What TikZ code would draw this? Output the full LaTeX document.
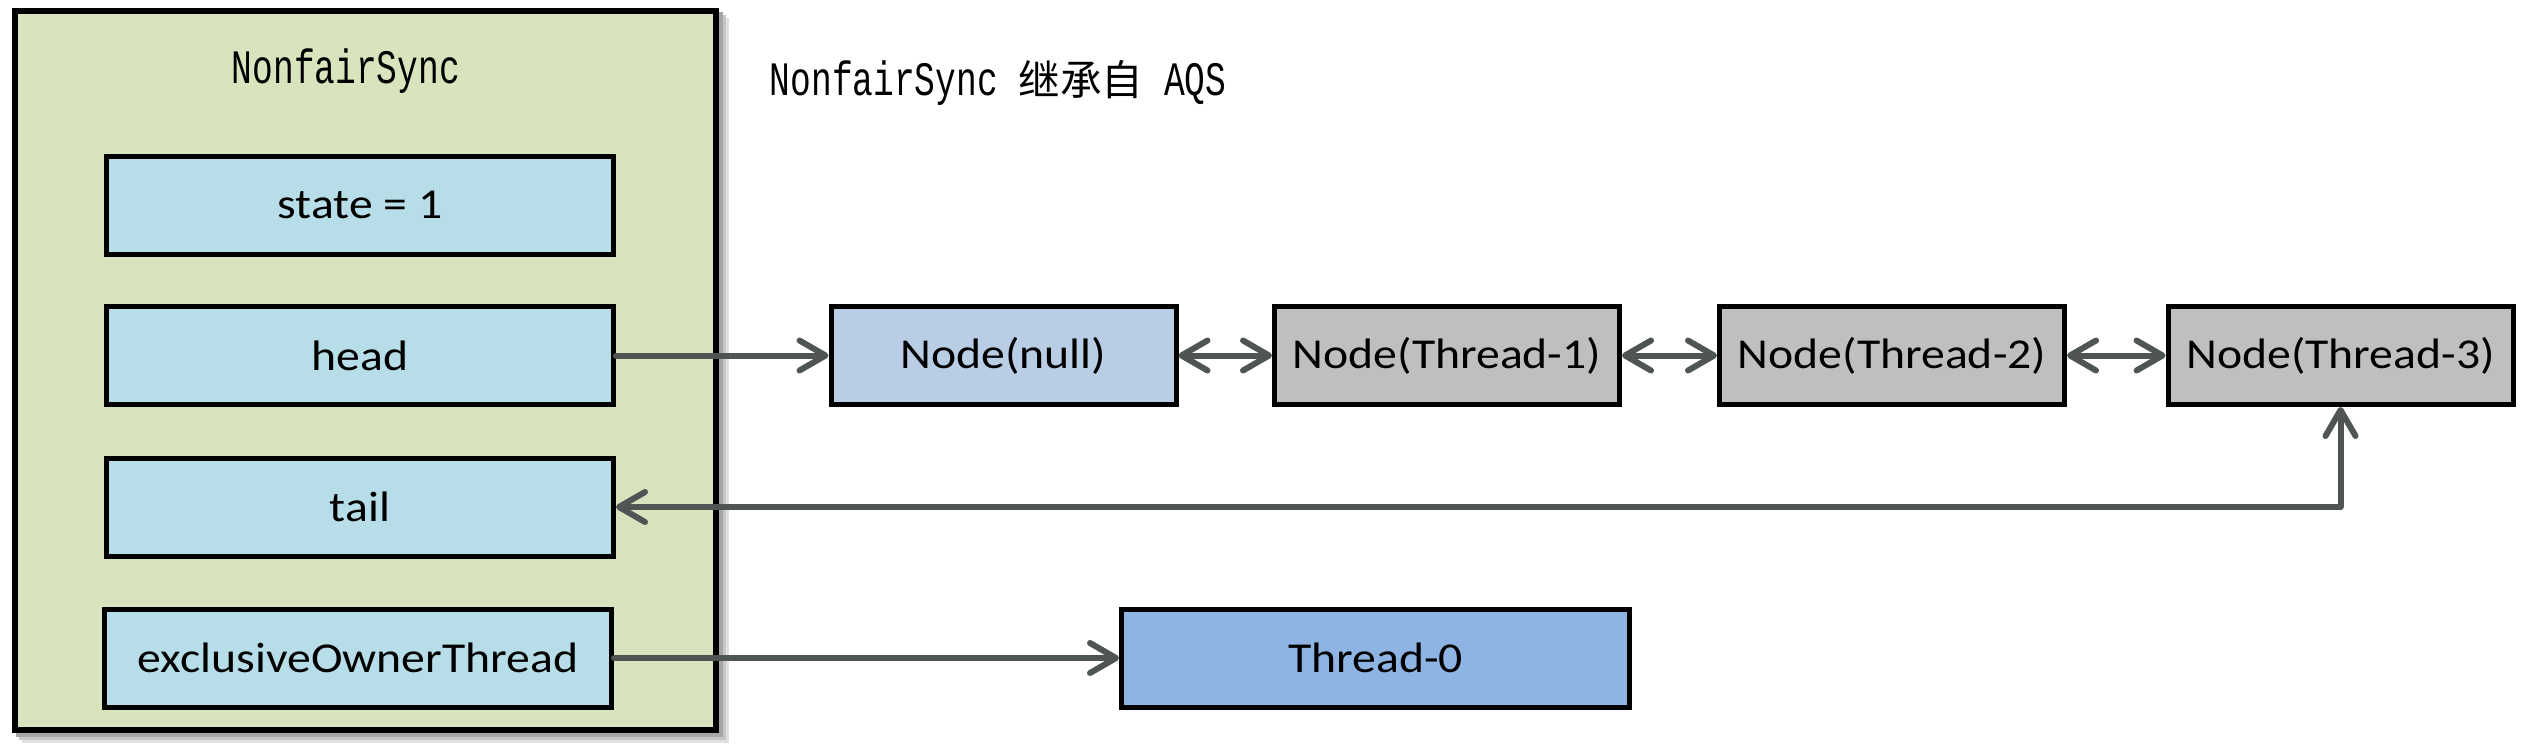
\documentclass[tikz,border=0pt]{standalone}
\usepackage{fontspec}
\setmainfont{Carlito}[FakeStretch=1.12]
\newfontfamily\monof{Liberation Mono}[FakeStretch=0.72]
\newfontfamily\cjk{Noto Sans CJK SC}
\usetikzlibrary{arrows.meta}
\definecolor{greenbg}{HTML}{D7E4BD}
\definecolor{fieldbg}{HTML}{B7DEE8}
\definecolor{nullbg}{HTML}{B9CDE5}
\definecolor{graybg}{HTML}{BFBFBF}
\definecolor{thrzero}{HTML}{8EB4E3}
\definecolor{arrowc}{RGB}{79,85,85}
\tikzset{
  mytip/.tip={Straight Barb[round,length=6.5pt,width=7.5pt]},
  fieldbox/.style={draw=black, line width=1.25pt, fill=fieldbg, minimum width=126.75pt,
    minimum height=24.5pt, inner sep=0pt, font=\fontsize{10.65pt}{12pt}\selectfont},
  listnode/.style={fieldbox, fill=graybg, minimum width=86.25pt},
  conn/.style={draw=arrowc, line width=1.5pt, line cap=round, line join=round},
  monotext/.style={anchor=base west, inner sep=0pt, font=\monof\fontsize{12pt}{14pt}\selectfont}
}
\begin{document}
\begin{tikzpicture}[x=0.25pt,y=-0.25pt]
\useasboundingbox (0,0) rectangle (2522,750);
% shadow of the outer box
\fill[black!12] (22,18) rectangle (729,743);
\fill[black!22] (19,15) rectangle (726,740);
\fill[black!35] (16,12) rectangle (723,737);
% outer box
\node[draw=black, line width=1.5pt, fill=greenbg, minimum width=175.25pt, minimum height=179.75pt,
  inner sep=0pt] (sync) at (365.5,370.5) {};
\node[monotext] (title) at (231,83) {NonfairSync};
\node[monotext] (note) at (769,95) {NonfairSync {\cjk\fontsize{10.4pt}{12pt}\selectfont 继承自} AQS};
% fields
\node[fieldbox] (state) at (360,205) {state = 1};
\node[fieldbox] (head) at (360,355.5) {head};
\node[fieldbox] (tail) at (360,507) {tail};
\node[fieldbox] (owner) at (358,658) {exclusiveOwnerThread};
% queue
\node[listnode, fill=nullbg] (n0) at (1003.5,355.5) {Node(null)};
\node[listnode] (n1) at (1447,355.5) {Node(Thread-1)};
\node[listnode] (n2) at (1892,355.5) {Node(Thread-2)};
\node[listnode] (n3) at (2340.5,355.5) {Node(Thread-3)};
\node[fieldbox, fill=thrzero, minimum width=127pt] (t0) at (1375.5,658) {Thread-0};
% connectors
\draw[conn, -mytip] (head.east) -- (n0.west);
\draw[conn, mytip-mytip] (n0.east) -- (n1.west);
\draw[conn, mytip-mytip] (n1.east) -- (n2.west);
\draw[conn, mytip-mytip] (n2.east) -- (n3.west);
\draw[conn, mytip-mytip] (tail.east) -| (n3.south);
\draw[conn, -mytip] (owner.east) -- (t0.west);
\end{tikzpicture}
\end{document}
